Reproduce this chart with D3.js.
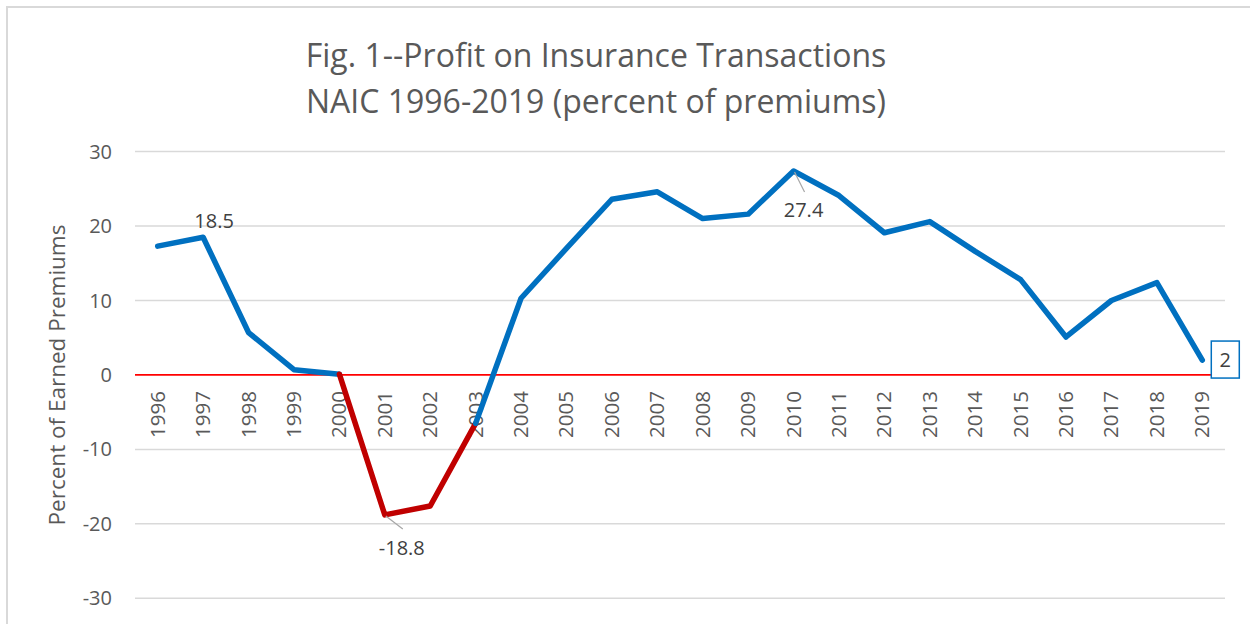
<!DOCTYPE html>
<html><head><meta charset="utf-8">
<script src="https://cdn.jsdelivr.net/npm/d3@7"></script>
<style>body{margin:0;background:#fff}svg{display:block}text{font-family:"Open Sans",Lato,sans-serif}</style>
</head><body><svg id="c" width="1250" height="624"></svg>
<script>
const years = ["1996","1997","1998","1999","2000","2001","2002","2003","2004","2005","2006","2007","2008","2009","2010","2011","2012","2013","2014","2015","2016","2017","2018","2019"];
const profit = [17.3,18.5,5.7,0.7,0.1,-18.8,-17.6,-6.5,10.3,17.0,23.6,24.6,21.0,21.6,27.4,24.1,19.1,20.6,16.6,12.8,5.1,10.0,12.4,2.0];
const redYears = ["2001","2002","2003"];
const yTicks = [30,20,10,0,-10,-20,-30];
const titleLines = ["Fig. 1--Profit on Insurance Transactions","NAIC 1996-2019 (percent of premiums)"];
const yTitle = "Percent of Earned Premiums";
const labelled = [{year:"1997",text:"18.5"},{year:"2001",text:"-18.8"},{year:"2010",text:"27.4"},{year:"2019",text:"2"}];

const svg = d3.select("#c");
const x = d3.scaleBand().domain(years).range([135,1225]);
const y = d3.scaleLinear().domain([-30,30]).range([598.3,151.6]);
const cx = d => x(d)+x.bandwidth()/2;

// chart border
svg.append("rect").attr("x",7).attr("y",7).attr("width",1260).attr("height",640)
  .attr("fill","none").attr("stroke","#d9d9d9").attr("stroke-width",2);

// gridlines
svg.append("g").selectAll("line").data(yTicks.filter(t=>t!==0)).join("line")
  .attr("x1",135).attr("x2",1225).attr("y1",d=>y(d)).attr("y2",d=>y(d))
  .attr("stroke","#d9d9d9").attr("stroke-width",1.5);

// y tick labels
svg.append("g").selectAll("text").data(yTicks).join("text")
  .attr("x",112).attr("y",d=>y(d)).attr("dy","0.35em").attr("text-anchor","end")
  .attr("font-size",20).attr("fill","#595959").text(d=>d);

// zero axis line
svg.append("line").attr("x1",135).attr("x2",1225).attr("y1",y(0)).attr("y2",y(0))
  .attr("stroke","#ff0000").attr("stroke-width",1.8);

// x tick labels rotated
svg.append("g").selectAll("text").data(years).join("text")
  .attr("transform",d=>`translate(${cx(d)+7},391) rotate(-90)`)
  .attr("text-anchor","end").attr("font-size",20.5).attr("fill","#595959").text(d=>d);

// line segments
const data = years.map((yr,i)=>({year:yr,v:profit[i]}));
const lineGen = d3.line().x(d=>cx(d.year)).y(d=>y(d.v));
const firstRed = years.indexOf(redYears[0]) - 1;
const lastRed = years.indexOf(redYears[redYears.length-1]);
const pieces = [
  {d:data.slice(0,firstRed+1), c:"#0070c0"},
  {d:data.slice(firstRed,lastRed+1), c:"#c00000"},
  {d:data.slice(lastRed), c:"#0070c0"}
];
svg.append("g").selectAll("path").data(pieces).join("path")
  .attr("d",p=>lineGen(p.d)).attr("fill","none").attr("stroke",p=>p.c)
  .attr("stroke-width",5.5).attr("stroke-linejoin","round").attr("stroke-linecap","round");

// data labels
const val = yr => profit[years.indexOf(yr)];
const L = {};
labelled.forEach(l=>L[l.year]=l.text);
svg.append("text").attr("x",cx("1997")+11).attr("y",y(val("1997"))-9).attr("text-anchor","middle")
  .attr("font-size",20).attr("fill","#404040").text(L["1997"]);
svg.append("line").attr("x1",cx("2001")+1).attr("y1",y(val("2001"))+1).attr("x2",cx("2001")+18).attr("y2",y(val("2001"))+14)
  .attr("stroke","#a6a6a6").attr("stroke-width",1.2);
svg.append("text").attr("x",cx("2001")+17).attr("y",y(val("2001"))+40).attr("text-anchor","middle")
  .attr("font-size",20).attr("fill","#404040").text(L["2001"]);
svg.append("line").attr("x1",cx("2010")+1).attr("y1",y(val("2010"))+1).attr("x2",cx("2010")+11).attr("y2",y(val("2010"))+21)
  .attr("stroke","#a6a6a6").attr("stroke-width",1.2);
svg.append("text").attr("x",cx("2010")+10).attr("y",y(val("2010"))+46).attr("text-anchor","middle")
  .attr("font-size",20).attr("fill","#404040").text(L["2010"]);
const bx = cx("2019")+9, by = y(val("2019"));
svg.append("rect").attr("x",bx).attr("y",by-19).attr("width",28).attr("height",37)
  .attr("fill","#fff").attr("stroke","#0070c0").attr("stroke-width",1.5);
svg.append("text").attr("x",bx+14).attr("y",by).attr("dy","0.35em").attr("text-anchor","middle")
  .attr("font-size",20).attr("fill","#404040").text(L["2019"]);

// title
svg.append("g").selectAll("text").data(titleLines).join("text")
  .attr("x",596).attr("y",(d,i)=>67+i*46).attr("text-anchor","middle")
  .attr("font-size",32).attr("fill","#595959").text(d=>d);

// y axis title
svg.append("text").attr("transform","translate(65,375) rotate(-90)").attr("text-anchor","middle")
  .attr("font-size",22.5).attr("fill","#595959").text(yTitle);
</script></body></html>
